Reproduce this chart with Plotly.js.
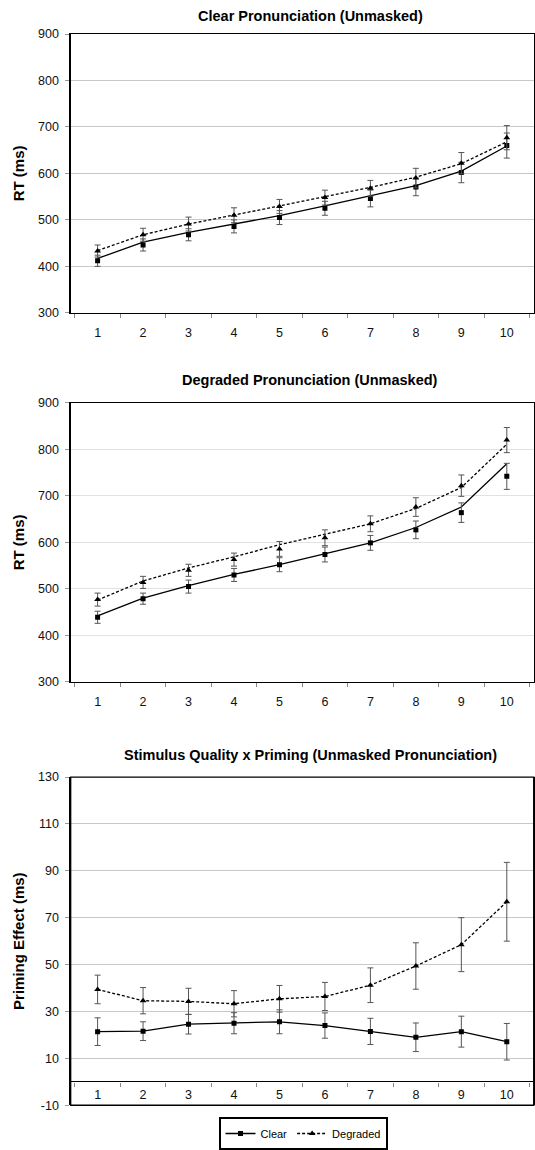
<!DOCTYPE html>
<html>
<head>
<meta charset="utf-8">
<script src="https://cdn.plot.ly/plotly-3.0.1.min.js"></script>
<style>
html,body{margin:0;padding:0;background:#fff;}
#chart{width:535px;height:1150px;}
</style>
</head>
<body>
<div id="chart"></div>
<script>
// Categories
const blocks = ['1','2','3','4','5','6','7','8','9','10'];

// Panel 1: Clear Pronunciation (Unmasked)
const clearRT1    = [412, 446, 468, 486, 505, 525, 546, 571, 602, 660];
const clearRT1Err = [12, 13, 13, 14, 15, 15, 18, 19, 22, 27];
const clearFit1   = [417, 452, 473, 491, 509, 530, 552, 574, 605, 659];
const degRT1      = [433, 468, 491, 510, 529, 548, 568, 590, 622, 677];
const degRT1Err   = [13, 14, 15, 16, 15, 16, 17, 21, 23, 26];
const degFit1     = [434, 468, 491, 510, 530, 550, 570, 592, 621, 668];

// Panel 2: Degraded Pronunciation (Unmasked)
const clearRT2    = [439, 479, 505, 530, 552, 574, 599, 627, 664, 742];
const clearRT2Err = [13, 12, 14, 14, 15, 16, 16, 19, 21, 28];
const clearFit2   = [442, 480, 507, 531, 552, 575, 599, 632, 676, 769];
const degRT2      = [477, 514, 540, 563, 586, 610, 640, 676, 722, 820];
const degRT2Err   = [14, 13, 13, 14, 16, 17, 17, 20, 23, 27];
const degFit2     = [476, 517, 545, 569, 595, 618, 640, 673, 718, 811];

// Panel 3: Stimulus Quality x Priming (priming effect, ms)
const clearPE    = [21.4, 21.6, 24.6, 25.0, 25.6, 24.0, 21.5, 19.0, 21.4, 17.1];
const clearPEErr = [5.9, 4.0, 4.2, 4.5, 5.1, 5.4, 5.6, 6.1, 6.6, 7.8];
const degPE      = [39.4, 34.6, 34.3, 33.3, 35.4, 36.4, 41.2, 49.4, 58.5, 76.8];
const degPEErr   = [6.1, 5.6, 5.6, 5.6, 5.7, 6.0, 7.4, 9.9, 11.5, 16.8];

// Tick labels
const rtTicks = [300, 400, 500, 600, 700, 800, 900];
const rtTickText = ['300', '400', '500', '600', '700', '800', '900'];
const peTicks = [-10, 10, 30, 50, 70, 90, 110, 130];
const peTickText = ['-10', '10', '30', '50', '70', '90', '110', '130'];

const titles = ['Clear Pronunciation (Unmasked)', 'Degraded Pronunciation (Unmasked)', 'Stimulus Quality x Priming (Unmasked Pronunciation)'];
const yTitles = ['RT (ms)', 'RT (ms)', 'Priming Effect (ms)'];
const seriesNames = ['Clear', 'Degraded'];

const FONT = 'Liberation Sans, Arial, Helvetica, sans-serif';
const W = 535, H = 1150;
const px = v => v / W;
const py = v => 1 - v / H;

const errStyle = {type:'data', visible:true, color:'#555', thickness:1, width:3};
const lineSolid = {color:'#000', width:1.3};
const lineDash = {color:'#000', width:1.3, dash:'3px,2px'};
const sq = {symbol:'square', size:5, color:'#000'};
const tri = {symbol:'triangle-up', size:6, color:'#000'};

function markerTrace(y, err, mk, xa, ya, name) {
  return {x:blocks, y:y, type:'scatter', mode:'markers', marker:mk,
    error_y:Object.assign({array:err}, errStyle), xaxis:xa, yaxis:ya, showlegend:false, name:name, hoverinfo:'y'};
}
function lineTrace(y, ln, xa, ya, name) {
  return {x:blocks, y:y, type:'scatter', mode:'lines', line:ln, xaxis:xa, yaxis:ya, showlegend:false, name:name, hoverinfo:'y'};
}

const data = [
  lineTrace(clearFit1, lineSolid, 'x', 'y', seriesNames[0]),
  lineTrace(degFit1, lineDash, 'x', 'y', seriesNames[1]),
  markerTrace(clearRT1, clearRT1Err, sq, 'x', 'y', seriesNames[0]),
  markerTrace(degRT1, degRT1Err, tri, 'x', 'y', seriesNames[1]),

  lineTrace(clearFit2, lineSolid, 'x2', 'y2', seriesNames[0]),
  lineTrace(degFit2, lineDash, 'x2', 'y2', seriesNames[1]),
  markerTrace(clearRT2, clearRT2Err, sq, 'x2', 'y2', seriesNames[0]),
  markerTrace(degRT2, degRT2Err, tri, 'x2', 'y2', seriesNames[1]),

  {x:blocks, y:clearPE, type:'scatter', mode:'lines+markers', name:seriesNames[0], line:lineSolid, marker:sq,
    error_y:Object.assign({array:clearPEErr}, errStyle), xaxis:'x3', yaxis:'y3', showlegend:true},
  {x:blocks, y:degPE, type:'scatter', mode:'lines+markers', name:seriesNames[1], line:lineDash, marker:tri,
    error_y:Object.assign({array:degPEErr}, errStyle), xaxis:'x3', yaxis:'y3', showlegend:true}
];

const xDom = [px(70.7), px(533.7)];
const yDoms = [[py(315), py(34.3)], [py(686.7), py(405.7)], [py(1113), py(782.5)]];
const tickFont = {family:FONT, size:12.5, color:'#111'};

function xAxis(anchor) {
  return {domain:xDom, anchor:anchor, type:'category', tickson:'boundaries', ticks:'outside', ticklen:4,
    tickcolor:'#888', tickwidth:1, showline:true, linecolor:'#000', linewidth:1.3, mirror:true,
    showgrid:false, zeroline:false, tickfont:tickFont, ticklabelstandoff:8, fixedrange:true};
}
function yAxis(anchor, dom, range, vals, texts, title, grid) {
  return {domain:dom, anchor:anchor, range:range, tickmode:'array', tickvals:vals, ticktext:texts,
    ticks:'outside', ticklen:4,
    tickcolor:'#999', tickwidth:1, showline:true, linecolor:'#000', linewidth:1.3, mirror:true,
    showgrid:true, gridcolor:grid, gridwidth:1, zeroline:false, tickfont:tickFont, ticklabelstandoff:4,
    title:{text:title, font:{family:FONT, size:15, color:'#000', weight:'bold'}, standoff:9}, fixedrange:true};
}

const y3range = [-10, 130];
const x3pos = yDoms[2][0] + (0 - y3range[0]) / (y3range[1] - y3range[0]) * (yDoms[2][1] - yDoms[2][0]);

const x3 = xAxis('free');
x3.position = x3pos;
x3.showline = false;
x3.mirror = false;
x3.ticklabelstandoff = 4;

const y3 = yAxis('x3', yDoms[2], y3range, peTicks, peTickText, yTitles[2], '#c8c8c8');
y3.zeroline = true;
y3.zerolinecolor = '#000';
y3.zerolinewidth = 1.3;

const layout = {
  width:W, height:H,
  margin:{l:0, r:0, t:0, b:0},
  paper_bgcolor:'#fff', plot_bgcolor:'#fff',
  font:{family:FONT, color:'#000'},
  xaxis:xAxis('y'),
  yaxis:yAxis('x', yDoms[0], [300, 900], rtTicks, rtTickText, yTitles[0], '#c8c8c8'),
  xaxis2:xAxis('y2'),
  yaxis2:yAxis('x2', yDoms[1], [300, 900], rtTicks, rtTickText, yTitles[1], '#e2e2e2'),
  xaxis3:x3,
  yaxis3:y3,
  shapes:[{type:'rect', xref:'x3 domain', yref:'y3 domain', x0:0, x1:1, y0:0, y1:1,
    line:{color:'#000', width:1.3}, fillcolor:'rgba(0,0,0,0)', layer:'above'}],
  annotations:[
    {text:titles[0], xref:'paper', yref:'paper', x:px(310), y:py(16)},
    {text:titles[1], xref:'paper', yref:'paper', x:px(310), y:py(383)},
    {text:titles[2], xref:'paper', yref:'paper', x:px(310), y:py(760.7)}
  ].map(a => Object.assign(a, {showarrow:false, xanchor:'center', yanchor:'middle',
    font:{family:FONT, size:14.5, color:'#000', weight:'bold'}})),
  showlegend:true,
  legend:{orientation:'h', x:px(303), xanchor:'center', y:py(1125), yanchor:'top',
    bordercolor:'#000', borderwidth:2, bgcolor:'#fff', font:{family:FONT, size:11, color:'#000'},
    itemwidth:30, tracegroupgap:0}
};

Plotly.newPlot('chart', data, layout, {displayModeBar:false, staticPlot:true});
</script>
</body>
</html>
